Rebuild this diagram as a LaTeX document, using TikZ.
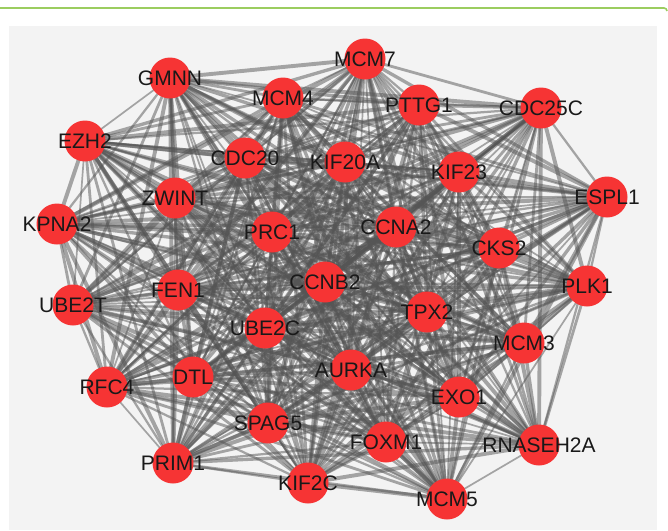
\documentclass[tikz,border=0pt]{standalone}
\usepackage{fontspec}
\setmainfont{Liberation Sans}
\definecolor{panelgray}{RGB}{243,243,243}
\definecolor{nodered}{RGB}{246,52,52}
\definecolor{greenline}{RGB}{155,205,95}
\definecolor{edgegray}{RGB}{85,85,85}
\pgfdeclarelayer{panel}
\pgfdeclarelayer{edges}
\pgfsetlayers{panel,edges,main}
\tikzset{
  gene/.style={circle, fill=nodered, draw=none, minimum size=41pt, inner sep=0pt,
    label={[font=\fontsize{21}{24}\selectfont, text=black!90, inner sep=0pt]center:#1}},
  edgeline/.style={draw=edgegray, draw opacity=0.5, line cap=round}
}
\begin{document}
\begin{tikzpicture}[x=1pt,y=-1pt]
\useasboundingbox (0,0) rectangle (668,530);
\begin{pgfonlayer}{panel}
\fill[white] (0,0) rectangle (668,530);
\fill[panelgray] (9,26) rectangle (657,530);
\draw[greenline, line width=1.6pt] (0,8) -- (664,8) to[out=0,in=90] (667,11);
\end{pgfonlayer}
\node[gene=MCM7] (MCM7) at (365,59) {};
\node[gene=GMNN] (GMNN) at (170,78) {};
\node[gene=MCM4] (MCM4) at (283,98) {};
\node[gene=PTTG1] (PTTG1) at (419,105) {};
\node[gene=CDC25C] (CDC25C) at (541,108) {};
\node[gene=EZH2] (EZH2) at (85,141) {};
\node[gene=CDC20] (CDC20) at (245,158) {};
\node[gene=KIF20A] (KIF20A) at (345,162) {};
\node[gene=KIF23] (KIF23) at (459,172) {};
\node[gene=ZWINT] (ZWINT) at (175,198) {};
\node[gene=ESPL1] (ESPL1) at (607,197) {};
\node[gene=KPNA2] (KPNA2) at (57,224) {};
\node[gene=PRC1] (PRC1) at (272,232) {};
\node[gene=CCNA2] (CCNA2) at (396,227) {};
\node[gene=CKS2] (CKS2) at (499,248) {};
\node[gene=CCNB2] (CCNB2) at (325,282) {};
\node[gene=FEN1] (FEN1) at (178,290) {};
\node[gene=UBE2T] (UBE2T) at (73,305) {};
\node[gene=PLK1] (PLK1) at (587,286) {};
\node[gene=TPX2] (TPX2) at (427,312) {};
\node[gene=UBE2C] (UBE2C) at (265,328) {};
\node[gene=MCM3] (MCM3) at (524,343) {};
\node[gene=AURKA] (AURKA) at (351,370) {};
\node[gene=DTL] (DTL) at (193,377) {};
\node[gene=RFC4] (RFC4) at (107,387) {};
\node[gene=EXO1] (EXO1) at (459,397) {};
\node[gene=SPAG5] (SPAG5) at (268,423) {};
\node[gene=FOXM1] (FOXM1) at (386,442) {};
\node[gene=RNASEH2A] (RNASEH2A) at (539,445) {};
\node[gene=PRIM1] (PRIM1) at (173,463) {};
\node[gene=KIF2C] (KIF2C) at (308,483) {};
\node[gene=MCM5] (MCM5) at (447,499) {};
\begin{pgfonlayer}{edges}
\foreach \a [count=\i] in {MCM7,GMNN,MCM4,PTTG1,CDC25C,EZH2,CDC20,KIF20A,KIF23,ZWINT,ESPL1,KPNA2,PRC1,CCNA2,CKS2,CCNB2,FEN1,UBE2T,PLK1,TPX2,UBE2C,MCM3,AURKA,DTL,RFC4,EXO1,SPAG5,FOXM1,RNASEH2A,PRIM1,KIF2C,MCM5}{
  \foreach \b [count=\j] in {MCM7,GMNN,MCM4,PTTG1,CDC25C,EZH2,CDC20,KIF20A,KIF23,ZWINT,ESPL1,KPNA2,PRC1,CCNA2,CKS2,CCNB2,FEN1,UBE2T,PLK1,TPX2,UBE2C,MCM3,AURKA,DTL,RFC4,EXO1,SPAG5,FOXM1,RNASEH2A,PRIM1,KIF2C,MCM5}{
    \ifnum\j>\i
      \pgfmathsetmacro\w{1.7+0.55*mod(\i*7+\j*11,5)}
      \draw[edgeline, line width=\w pt] (\a.center) -- (\b.center);
    \fi
  }
}
\end{pgfonlayer}
\end{tikzpicture}
\end{document}
